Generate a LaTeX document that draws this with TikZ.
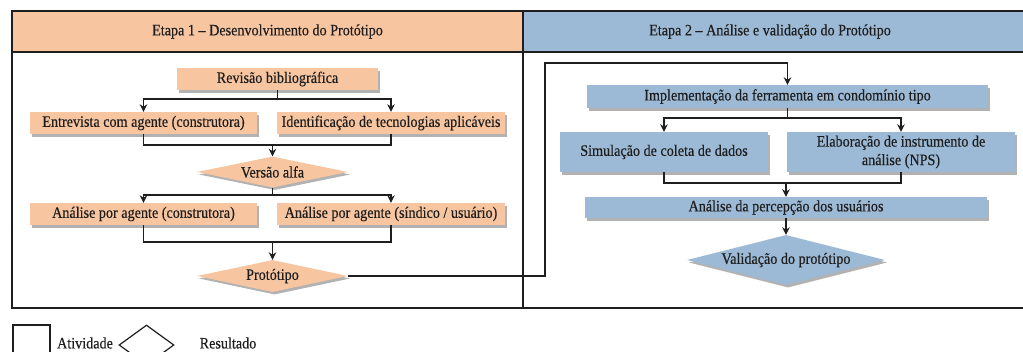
\documentclass[tikz,border=0pt]{standalone}
\usepackage{fontspec}
\setmainfont{Liberation Serif}[FakeStretch=0.89,FakeBold=0.4]
\usetikzlibrary{shapes.geometric,arrows.meta,shadows}
\definecolor{org}{HTML}{F7C5A0}
\definecolor{blu}{HTML}{9CB9D5}
\definecolor{ink}{HTML}{1E1E1E}
\begin{document}
\begin{tikzpicture}[x=1pt,y=-1pt,
  font=\fontsize{15.9}{18}\selectfont, text=ink,
  conn/.style={line width=1.3pt, draw=ink},
  arr/.style={conn,-{Stealth[length=7.5pt,width=7.5pt]}},
  shad/.style={drop shadow={shadow xshift=2pt,shadow yshift=-2.5pt,opacity=0.3,fill=black}},
  box/.style={rectangle, inner sep=0pt, shad},
  obox/.style={box, fill=org},
  bbox/.style={box, fill=blu},
  dia/.style={diamond, inner sep=0pt, shad},
  frame/.style={line width=1.4pt, draw=ink},
]
\useasboundingbox (0,0) rectangle (1023,351);

% frame and headers
\fill[org] (12,11) rectangle (523,52);
\fill[blu] (523,11) rectangle (1026,52);
\draw[frame] (1026,11) -- (12,11) -- (12,308) -- (1026,308);
\draw[frame] (12,52) -- (1026,52);
\draw[frame] (523,11) -- (523,308);
\node (h1) at (267.5,31.5) {Etapa 1 – Desenvolvimento do Protótipo};
\node (h2) at (770,31.5) {Etapa 2 – Análise e validação do Protótipo};

% Etapa 1
\node[obox, minimum width=201pt, minimum height=22pt] (rev) at (277.5,79) {Revisão bibliográfica};
\node[obox, minimum width=227pt, minimum height=22pt] (ent) at (143.5,123) {Entrevista com agente (construtora)};
\node[obox, minimum width=228pt, minimum height=22pt] (ide) at (391,123) {Identificação de tecnologias aplicáveis};
\node[dia, fill=org, aspect=4.87, minimum width=151pt, minimum height=31pt] (alfa) at (272.5,172) {Versão alfa};
\node[obox, minimum width=227pt, minimum height=22pt] (anc) at (143.5,214) {Análise por agente (construtora)};
\node[obox, minimum width=228pt, minimum height=22pt] (ans) at (391,214) {Análise por agente (síndico / usuário)};
\node[dia, fill=org, aspect=4.7, minimum width=151pt, minimum height=32pt] (proto) at (272.5,276) {Protótipo};

\coordinate (s1) at (277.5,99);
\coordinate (m1) at (272.5,145);
\coordinate (s2) at (272.5,195);
\coordinate (m2) at (272.5,242);
\draw[conn] (rev.south) -- (s1);
\draw[arr] (s1) -| (ent.north);
\draw[arr] (s1) -| (ide.north);
\draw[conn] (ent.south) |- (m1);
\draw[conn] (ide.south) |- (m1);
\draw[arr] (m1) -- (alfa.north);
\draw[conn] (alfa.south) -- (s2);
\draw[arr] (s2) -| (anc.north);
\draw[arr] (s2) -| (ans.north);
\draw[conn] (anc.south) |- (m2);
\draw[conn] (ans.south) |- (m2);
\draw[arr] (m2) -- (proto.north);

% Etapa 2
\node[bbox, minimum width=401pt, minimum height=23pt] (impl) at (787.5,96.5) {Implementação da ferramenta em condomínio tipo};
\node[bbox, minimum width=208pt, minimum height=40pt] (sim) at (664,152) {Simulação de coleta de dados};
\node[bbox, minimum width=228pt, minimum height=40pt, align=center, font=\fontsize{15.9}{18.5}\selectfont] (ela) at (901,152) {Elaboração de instrumento de\\análise (NPS)};
\node[bbox, minimum width=402pt, minimum height=21pt] (per) at (786,207.5) {Análise da percepção dos usuários};
\node[dia, fill=blu, aspect=3.96, minimum width=198pt, minimum height=50pt] (val) at (786,260) {Validação do protótipo};

\coordinate (t1) at (545,63);
\draw[arr] (proto.east) -| (t1) -| (impl.north);
\coordinate (s3) at (787.5,118);
\coordinate (m3) at (786,183);
\draw[conn] (impl.south) -- (s3);
\draw[arr] (s3) -| (sim.north);
\draw[arr] (s3) -| (ela.north);
\draw[conn] (sim.south) |- (m3);
\draw[conn] (ela.south) |- (m3);
\draw[arr] (m3) -- (per.north);
\draw[arr] (per.south) -- (val.north);

% legend
\node[draw=ink, line width=1.2pt, minimum width=37pt, minimum height=30pt, inner sep=0pt] (lr) at (31.5,340) {};
\node (lt1) at (85,343) {Atividade};
\node[diamond, draw=ink, line width=1.2pt, aspect=1.4, minimum width=55pt, minimum height=40pt, inner sep=0pt] (ld) at (146.5,345) {};
\node (lt2) at (228,343) {Resultado};
\end{tikzpicture}
\end{document}
